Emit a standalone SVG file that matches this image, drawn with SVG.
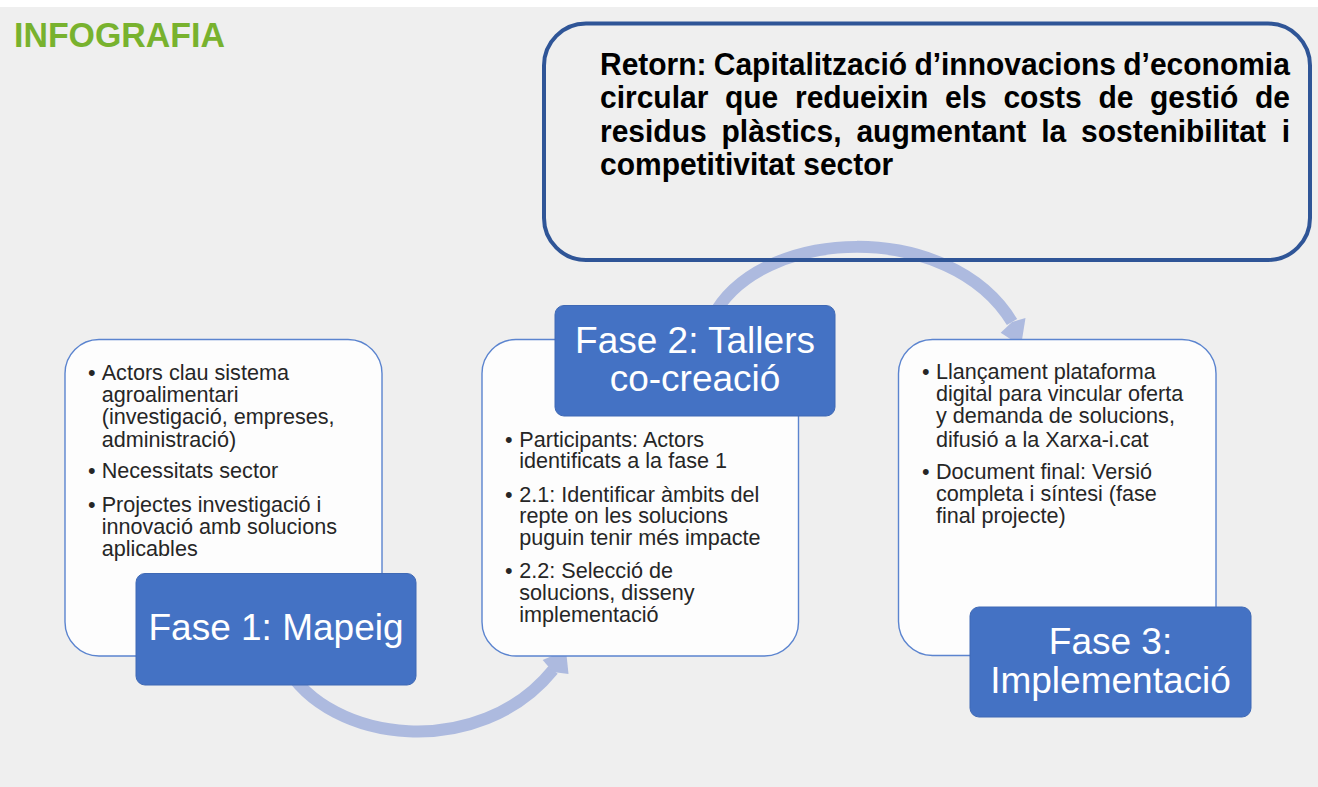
<svg xmlns="http://www.w3.org/2000/svg" width="1318" height="787" viewBox="0 0 1318 787">
<style>
.bg{fill:#efefef}
.title{font-family:"Liberation Sans",Arial,sans-serif;font-weight:bold;font-size:34px;fill:#78b22e}
.ret{font-family:"Liberation Sans",Arial,sans-serif;font-weight:bold;font-size:30px;fill:#000}
.retbox{fill:none;stroke:#2f5597;stroke-width:4}
.card{fill:#fdfdfd;stroke:#5b84cf;stroke-width:1.4}
.label{fill:#4472c4;stroke:#3f69b5;stroke-width:1}
.lt{font-family:"Liberation Sans",Arial,sans-serif;font-size:37px;fill:#fff;text-anchor:middle}
.bt{font-family:"Liberation Sans",Arial,sans-serif;font-size:21.6px;fill:#262626}
.arc{fill:none;stroke:#adbadf;stroke-width:12}
.head{fill:#adbadf}
</style>
<rect x="0" y="0" width="1318" height="787" fill="#ffffff"/>
<rect class="bg" x="0" y="7" width="1318" height="780"/>
<g transform="scale(1,1.05)">
  <text class="title" x="14" y="45" textLength="211" lengthAdjust="spacingAndGlyphs">INFOGRAFIA</text>
</g>

<g id="connectors">
  <path class="arc" d="M 285 665 C 330 745, 480 760, 553 670"/>
  <polygon class="head" points="542.7,660 566,650 568.5,674 553,672"/>
  <path class="arc" d="M 712 318 C 760 225, 950 220, 1012 322"/>
  <polygon class="head" points="1000.7,332.7 1021,346 1025.5,318 1012,322"/>
</g>

<g id="node-retorn">
  <rect class="retbox" x="544" y="23.5" width="766" height="236.5" rx="42" ry="42"/>
  <g transform="scale(1,1.07)">
    <text class="ret" y="70.1"><tspan x="600">Retorn:</tspan><tspan x="713.8">Capitalització</tspan><tspan x="914.4">d’innovacions</tspan><tspan x="1123.3">d’economia</tspan></text>
    <text class="ret" y="101.4"><tspan x="600">circular</tspan><tspan x="725">que</tspan><tspan x="795">redueixin</tspan><tspan x="945">els</tspan><tspan x="1003.4">costs</tspan><tspan x="1098.4">de</tspan><tspan x="1150">gestió</tspan><tspan x="1255">de</tspan></text>
    <text class="ret" y="132.7"><tspan x="600">residus</tspan><tspan x="721.5">plàstics,</tspan><tspan x="856.4">augmentant</tspan><tspan x="1041.2">la</tspan><tspan x="1081.1">sostenibilitat</tspan><tspan x="1281.7">i</tspan></text>
    <text class="ret" x="600" y="163.6">competitivitat sector</text>
  </g>
</g>

<g id="node-fase1">
  <rect class="card" x="65" y="339.5" width="317" height="316.5" rx="34" ry="34"/>
  <text class="bt">
    <tspan x="88" y="380">•</tspan><tspan x="101.7" y="380">Actors clau sistema</tspan>
    <tspan x="101.7" y="402">agroalimentari</tspan>
    <tspan x="101.7" y="424.3">(investigació, empreses,</tspan>
    <tspan x="101.7" y="446.7">administració)</tspan>
    <tspan x="88" y="478.3">•</tspan><tspan x="101.7" y="478.3">Necessitats sector</tspan>
    <tspan x="88" y="511.5">•</tspan><tspan x="101.7" y="511.5">Projectes investigació i</tspan>
    <tspan x="101.7" y="533.5">innovació amb solucions</tspan>
    <tspan x="101.7" y="556">aplicables</tspan>
  </text>
  <rect class="label" x="136" y="573.5" width="280" height="111.5" rx="9" ry="9"/>
  <text class="lt" x="276" y="640">Fase 1: Mapeig</text>
</g>

<g id="node-fase2">
  <rect class="card" x="482" y="339.5" width="316.5" height="316.5" rx="34" ry="34"/>
  <text class="bt">
    <tspan x="505" y="446.7">•</tspan><tspan x="519.3" y="446.7">Participants: Actors</tspan>
    <tspan x="519.3" y="468.3">identificats a la fase 1</tspan>
    <tspan x="505" y="501.7">•</tspan><tspan x="519.3" y="501.7">2.1: Identificar àmbits del</tspan>
    <tspan x="519.3" y="523.3">repte on les solucions</tspan>
    <tspan x="519.3" y="545">puguin tenir més impacte</tspan>
    <tspan x="505" y="578.3">•</tspan><tspan x="519.3" y="578.3">2.2: Selecció de</tspan>
    <tspan x="519.3" y="600">solucions, disseny</tspan>
    <tspan x="519.3" y="621.7">implementació</tspan>
  </text>
  <rect class="label" x="555" y="305.5" width="280" height="110.5" rx="9" ry="9"/>
  <text class="lt" x="695" y="352.7">Fase 2: Tallers</text>
  <text class="lt" x="695" y="390.7">co-creació</text>
</g>

<g id="node-fase3">
  <rect class="card" x="898.5" y="339.5" width="317.5" height="316" rx="34" ry="34"/>
  <text class="bt">
    <tspan x="922" y="379.3">•</tspan><tspan x="936" y="379.3">Llançament plataforma</tspan>
    <tspan x="936" y="401">digital para vincular oferta</tspan>
    <tspan x="936" y="423.3">y demanda de solucions,</tspan>
    <tspan x="936" y="446.7">difusió a la Xarxa-i.cat</tspan>
    <tspan x="922" y="479.3">•</tspan><tspan x="936" y="479.3">Document final: Versió</tspan>
    <tspan x="936" y="501">completa i síntesi (fase</tspan>
    <tspan x="936" y="523.3">final projecte)</tspan>
  </text>
  <rect class="label" x="970" y="607" width="281" height="110" rx="9" ry="9"/>
  <text class="lt" x="1110.5" y="654.3">Fase 3:</text>
  <text class="lt" x="1110.5" y="692.7">Implementació</text>
</g>
</svg>
